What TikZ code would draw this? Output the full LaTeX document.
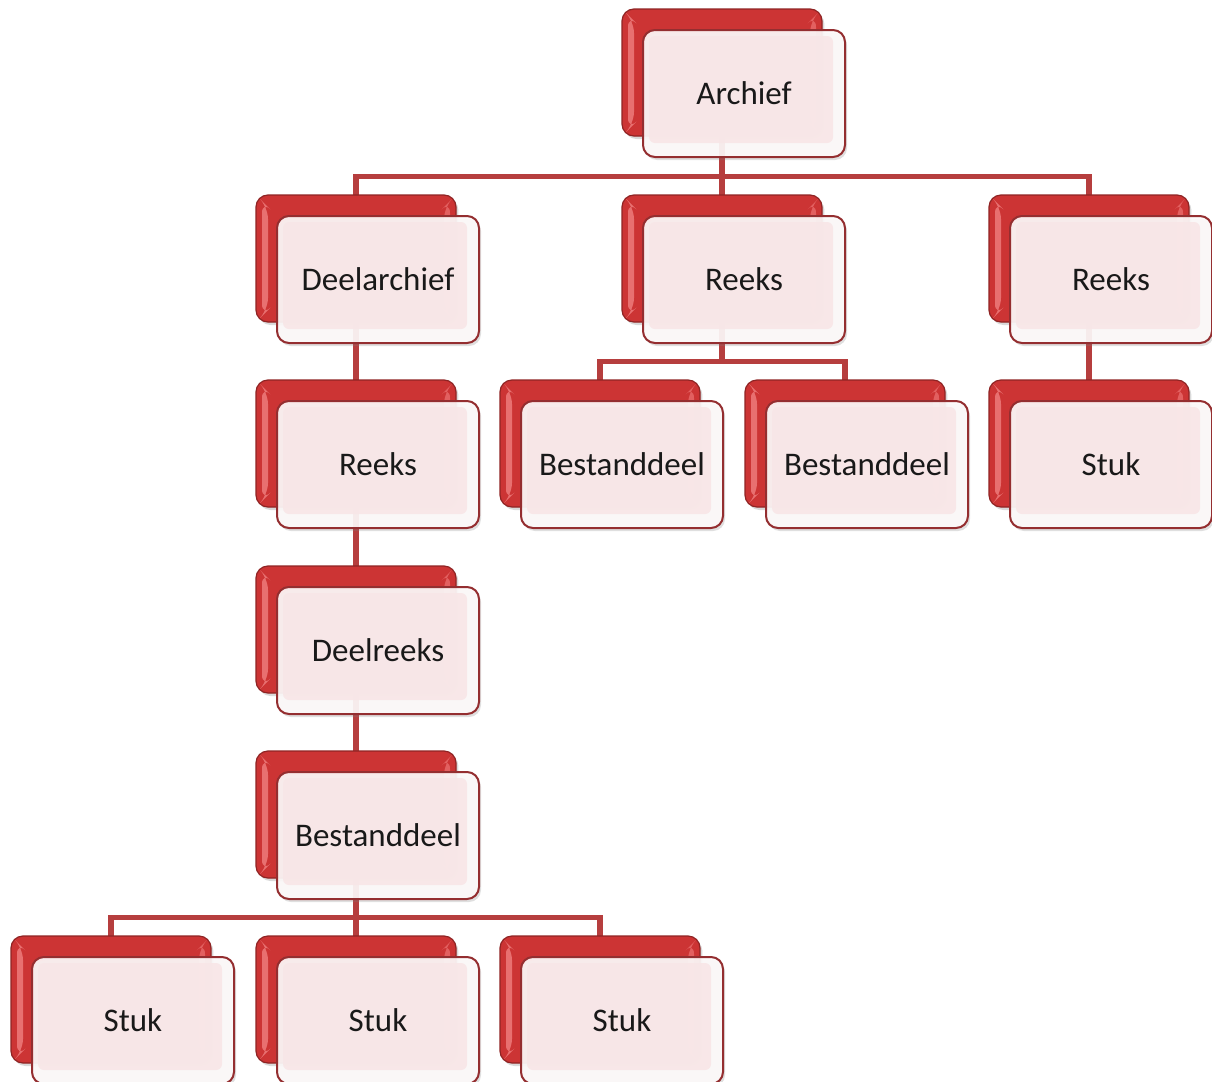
\documentclass[tikz,border=0pt]{standalone}
\usepackage{fontspec}
\setmainfont{Carlito}
\usetikzlibrary{backgrounds,shadows,calc}

\definecolor{lineRed}{RGB}{182,62,62}
\definecolor{backRed}{RGB}{204,52,52}
\definecolor{backBevelL}{RGB}{232,112,112}
\definecolor{backBevelR}{RGB}{226,96,96}
\definecolor{frontPink}{RGB}{248,230,231}
\definecolor{frontEdge}{RGB}{148,46,48}
\definecolor{frontRim}{RGB}{253,249,249}

\tikzset{
  backbox/.style={rounded corners=6pt, minimum width=100pt, minimum height=63.5pt,
    inner sep=0pt, fill=backRed, draw=backRed!70!black, line width=0.6pt,
    drop shadow={shadow xshift=1.2pt, shadow yshift=-1.5pt, opacity=0.3},
    path picture={
      % bevelled inner edges, left and right
      \fill[backBevelL]
        ([shift={(3pt,-3pt)}]path picture bounding box.north west) --
        ([shift={(6pt,-6pt)}]path picture bounding box.north west) --
        ([shift={(6pt,6pt)}]path picture bounding box.south west) --
        ([shift={(3pt,3pt)}]path picture bounding box.south west) -- cycle;
      \fill[backBevelR]
        ([shift={(-3pt,-3pt)}]path picture bounding box.north east) --
        ([shift={(-6pt,-6pt)}]path picture bounding box.north east) --
        ([shift={(-6pt,6pt)}]path picture bounding box.south east) --
        ([shift={(-3pt,3pt)}]path picture bounding box.south east) -- cycle;
    }},
  frontbox/.style={rounded corners=6pt, minimum width=101pt, minimum height=63.5pt,
    inner sep=0pt, draw=frontEdge, line width=1pt, fill=frontRim, fill opacity=0.92,
    text opacity=1, font=\fontsize{16.5}{20}\selectfont, text=black!90,
    drop shadow={shadow xshift=1pt, shadow yshift=-1.5pt, opacity=0.25},
    path picture={
      \fill[frontPink, rounded corners=3pt]
        ([shift={(3pt,-3pt)}]path picture bounding box.north west) rectangle
        ([shift={(-6pt,7pt)}]path picture bounding box.south east);
    }},
  conn/.style={draw=lineRed, line width=2.6pt},
}

% one chart entry: red card behind, pale card in front; #2,#3 = top-left of the red card
\newcommand\orgunit[4]{%
  \node[backbox] (#1b) at ({#2+100},{#3+63.5}) {};
  \node[frontbox] (#1) at ({#2+122},{#3+84.5}) {#4};
}
% elbow connector from a parent entry to a child entry, bending halfway between them
\newcommand\orglink[2]{%
  \coordinate (mid) at ($(#1.south)!0.5!(#2b.north)$);
  \draw[conn] (#1b.center) -- (#1b.center |- mid) -| (#2b.center);
}

\begin{document}
\begin{tikzpicture}[x=0.5pt, y=-0.5pt]
  \useasboundingbox (0,0) rectangle (1212,1082);

  \orgunit{arch}{622}{9}{Archief}
  \orgunit{deel}{256}{195}{Deelarchief}
  \orgunit{reeksM}{622}{195}{Reeks}
  \orgunit{reeksR}{989}{195}{Reeks}
  \orgunit{reeksA}{256}{380}{Reeks}
  \orgunit{bestM}{500}{380}{Bestanddeel}
  \orgunit{bestN}{745}{380}{Bestanddeel}
  \orgunit{stukR}{989}{380}{Stuk}
  \orgunit{deelr}{256}{566}{Deelreeks}
  \orgunit{bestA}{256}{751}{Bestanddeel}
  \orgunit{stukA}{11}{936}{Stuk}
  \orgunit{stukB}{256}{936}{Stuk}
  \orgunit{stukC}{500}{936}{Stuk}

  \begin{scope}[on background layer]
    \orglink{arch}{deel}
    \orglink{arch}{reeksM}
    \orglink{arch}{reeksR}
    \orglink{deel}{reeksA}
    \orglink{reeksA}{deelr}
    \orglink{deelr}{bestA}
    \orglink{reeksM}{bestM}
    \orglink{reeksM}{bestN}
    \orglink{reeksR}{stukR}
    \orglink{bestA}{stukA}
    \orglink{bestA}{stukB}
    \orglink{bestA}{stukC}
  \end{scope}
\end{tikzpicture}
\end{document}
